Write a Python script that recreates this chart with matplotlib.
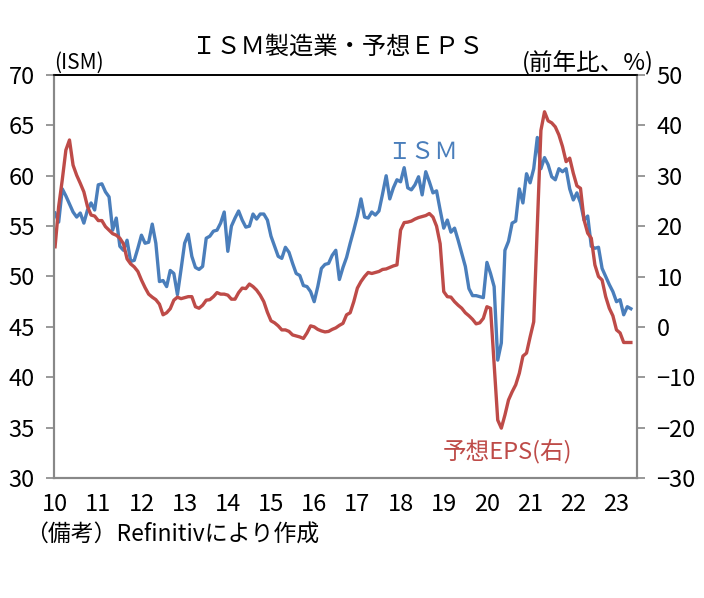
import numpy as np
import matplotlib
matplotlib.use("Agg")
import matplotlib.pyplot as plt

plt.rcParams['font.family'] = ['Noto Sans CJK JP', 'DejaVu Sans']

# monthly data, Jan 2010 - May 2023
ism = [56.3, 55.4, 58.7, 58.0, 57.2, 56.4, 55.9, 56.3, 55.3, 56.6, 57.3, 56.6,
       59.1, 59.2, 58.4, 57.9, 54.6, 55.8, 53.0, 52.6, 53.6, 51.5, 51.6, 52.8,
       54.1, 53.3, 53.4, 55.2, 53.3, 49.5, 49.6, 49.0, 50.6, 50.3, 48.2, 50.7,
       53.3, 54.2, 52.0, 50.9, 50.7, 51.0, 53.8, 54.0, 54.5, 54.6, 55.3, 56.4,
       52.5, 55.0, 55.8, 56.5, 55.6, 54.9, 55.0, 56.2, 55.7, 56.2, 56.2, 55.6,
       54.0, 53.0, 52.0, 51.8, 52.9, 52.4, 51.3, 50.3, 50.1, 49.1, 49.0, 48.5,
       47.5, 49.0, 50.8, 51.2, 51.3, 52.1, 52.6, 49.7, 50.9, 51.9, 53.3, 54.6,
       56.0, 57.7, 55.9, 55.8, 56.4, 56.1, 56.5, 58.2, 60.0, 57.7, 58.8, 59.6,
       59.4, 60.8, 58.8, 58.6, 59.1, 59.9, 58.1, 60.4, 59.4, 58.3, 58.5, 56.6,
       54.8, 55.6, 54.4, 54.8, 53.6, 52.3, 51.0, 48.8, 48.1, 48.1, 48.0, 47.9,
       51.4, 50.3, 49.0, 41.7, 43.4, 52.6, 53.5, 55.3, 55.5, 58.7, 57.3, 60.2,
       59.3, 60.7, 63.8, 60.7, 61.8, 61.1, 59.9, 59.6, 60.7, 60.4, 60.7, 58.7,
       57.6, 58.3, 57.3, 55.6, 56.0, 53.0, 52.8, 52.9, 50.8, 50.0, 49.2, 48.5,
       47.5, 47.7, 46.2, 47.0, 46.8]

eps = [15.9, 23.9, 29.2, 35.1, 37.1, 32.1, 30.1, 28.5, 26.8, 23.9, 22.2, 22.0,
       21.1, 21.1, 19.9, 19.2, 18.5, 18.2, 17.6, 16.5, 13.5, 12.5, 11.9, 11.0,
       9.3, 7.8, 6.5, 5.9, 5.4, 4.5, 2.4, 2.8, 3.6, 5.3, 5.9, 5.6,
       5.8, 6.0, 6.0, 4.0, 3.7, 4.3, 5.3, 5.4, 6.0, 6.8, 6.5, 6.5,
       6.3, 5.5, 5.5, 6.8, 7.7, 7.6, 8.5, 8.0, 7.3, 6.3, 5.0, 2.9,
       1.2, 0.8, 0.2, -0.6, -0.6, -0.9, -1.6, -1.8, -2.0, -2.3, -1.2, 0.2,
       0.0, -0.5, -0.8, -1.0, -0.9, -0.5, -0.2, 0.3, 0.7, 2.4, 2.8, 5.0,
       7.7, 9.0, 10.0, 10.8, 10.6, 10.8, 11.0, 11.4, 11.5, 11.8, 12.1, 12.3,
       19.2, 20.7, 20.8, 21.0, 21.4, 21.7, 21.9, 22.1, 22.5, 21.8, 20.0, 16.5,
       7.0, 6.0, 5.9, 5.0, 4.3, 3.7, 2.8, 2.2, 1.5, 0.6, 0.8, 1.7,
       4.0, 3.7, -7.4, -18.5, -20.1, -17.5, -14.5, -12.9, -11.5, -9.2, -5.8, -5.2,
       -2.0, 1.0, 20.0, 39.0, 42.7, 40.9, 40.5, 39.7, 38.1, 35.8, 32.8, 33.5,
       30.5, 28.0, 27.5, 21.2, 18.6, 17.6, 12.3, 10.0, 9.3, 6.0, 3.7, 2.2,
       -0.6, -1.2, -3.1, -3.1, -3.1]

year_labels = [str(y) for y in range(10, 24)]

x = np.arange(len(ism))
blue = '#4A7EBB'
red = '#BE4B48'
gray = '#888888'

fig = plt.figure(figsize=(7.04, 5.98), dpi=100)
ax = fig.add_axes([54 / 704, 120 / 598, 583 / 704, 403 / 598])
ax2 = ax.twinx()

ax.plot(x, ism, color=blue, lw=2.4, solid_joinstyle='round')
ax2.plot(x, eps, color=red, lw=2.4, solid_joinstyle='round')

ax.set_xlim(-0.3, 161.7)
ax.set_ylim(30, 70)
ax2.set_ylim(-30, 50)
ax.set_yticks(range(30, 71, 5))
ax2.set_yticks(range(-30, 51, 10))
ax.set_xticks(np.arange(len(year_labels)) * 12)
ax.set_xticklabels(year_labels)

for a in (ax, ax2):
    for s in ('left', 'right', 'bottom'):
        a.spines[s].set_color(gray)
        a.spines[s].set_linewidth(1.5)
    a.spines['top'].set_color('black')
    a.spines['top'].set_linewidth(1.2)

ax.tick_params(axis='y', length=6, width=1.2, color=gray, pad=8, labelsize=17)
ax2.tick_params(axis='y', length=6, width=1.2, color=gray, pad=8, labelsize=17)
ax.tick_params(axis='x', length=0, pad=11, labelsize=17)

fig.text(338 / 704, 1 - 47 / 598, 'ＩＳＭ製造業・予想ＥＰＳ', ha='center', va='center', fontsize=17.5)
fig.text(54 / 704, 1 - 63 / 598, '(ISM)', ha='left', va='center', fontsize=15)
fig.text(654 / 704, 1 - 63 / 598, '(前年比、%)', ha='right', va='center', fontsize=17)
fig.text(423 / 704, 1 - 153 / 598, 'ＩＳＭ', ha='center', va='center', fontsize=17, color=blue)
fig.text(507 / 704, 1 - 451 / 598, '予想EPS(右)', ha='center', va='center', fontsize=17, color=red)
fig.text(25 / 704, 1 - 535 / 598, '（備考）Refinitivにより作成', ha='left', va='center', fontsize=16.5)

fig.savefig('out.png', dpi=100)
